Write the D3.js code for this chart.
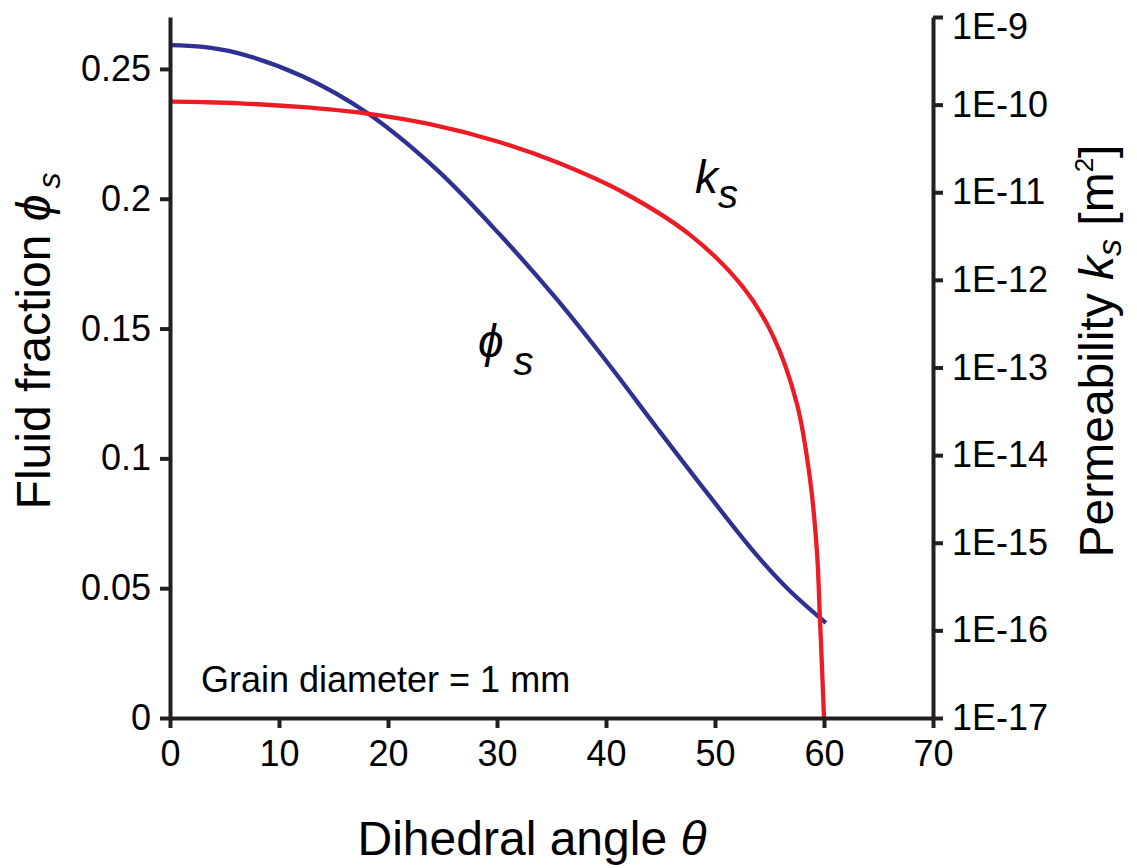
<!DOCTYPE html>
<html>
<head>
<meta charset="utf-8">
<script src="https://cdn.jsdelivr.net/npm/d3@7"></script>
<style>
    body { margin: 0; background: #fff; }
    svg { display: block; font-family: "Liberation Sans", Arial, sans-serif; }
</style>
</head>
<body>
<div id="chart"></div>
<script>
// fluid fraction phi_s vs dihedral angle (left axis)
const phiTheta  = [0, 3.03, 6.15, 12.2, 18.07, 24.5, 30.28, 35.5, 40.09, 44.68, 49.27, 53.85, 56.88, 60.18];
const phiValues = [0.2592, 0.2585, 0.2562, 0.2471, 0.2331, 0.2111, 0.1861, 0.1612, 0.1371, 0.1117, 0.0867, 0.0626, 0.0489, 0.0366];

// permeability k_s [m^2] vs dihedral angle (right axis, log)
const kTheta  = [0, 3.03, 6.42, 11.93, 18.07, 23.85, 30.28, 35.5, 41.56, 47.71, 52.48, 55.32, 57.52, 58.72, 59.36, 59.63, 59.82, 60];
const kValues = [1.08e-10, 1.066e-10, 1.035e-10, 9.4e-11, 7.9e-11, 5.98e-11, 3.72e-11, 2.2e-11, 1.0e-11, 3.26e-12,
                 8.55e-13, 2.3e-13, 3.84e-14, 5.3e-15, 7.66e-16, 1.32e-16, 3.73e-17, 1e-17];

const xTicks = [0, 10, 20, 30, 40, 50, 60, 70];
const phiTicks = [0, 0.05, 0.1, 0.15, 0.2, 0.25];
const phiTickLabels = ["0", "0.05", "0.1", "0.15", "0.2", "0.25"];
const kTicks = [1e-17, 1e-16, 1e-15, 1e-14, 1e-13, 1e-12, 1e-11, 1e-10, 1e-9];
const kTickLabels = ["1E-17", "1E-16", "1E-15", "1E-14", "1E-13", "1E-12", "1E-11", "1E-10", "1E-9"];

const width = 1137, height = 868;
const plotLeft = 170, plotRight = 933, plotTop = 17, plotBottom = 718;
const axisColor = "#231f20";

const svg = d3.select("#chart").append("svg")
    .attr("width", width)
    .attr("height", height);

const x = d3.scaleLinear().domain([0, 70]).range([plotLeft, plotRight]);
const yPhi = d3.scaleLinear().domain([0, 0.27]).range([plotBottom, plotTop]);
const yK = d3.scaleLog().domain([1e-17, 1e-9]).range([plotBottom, plotTop]);

// curves
const phiData = phiTheta.map((t, i) => ({t: t, v: phiValues[i]}));
const kData = kTheta.map((t, i) => ({t: t, v: kValues[i]}));

svg.append("path")
    .datum(phiData)
    .attr("fill", "none")
    .attr("stroke", "#2e3192")
    .attr("stroke-width", 4.3)
    .attr("d", d3.line().x(d => x(d.t)).y(d => yPhi(d.v)).curve(d3.curveCatmullRom.alpha(0.5)));

svg.append("path")
    .datum(kData)
    .attr("fill", "none")
    .attr("stroke", "#ed1c24")
    .attr("stroke-width", 4.3)
    .attr("d", d3.line().x(d => x(d.t)).y(d => yK(d.v)).curve(d3.curveCatmullRom.alpha(0.5)));

// axes
const tickFont = 36;

const xAxis = svg.append("g")
    .attr("transform", `translate(0,${plotBottom})`)
    .call(d3.axisBottom(x).tickValues(xTicks).tickSize(10).tickSizeOuter(0).tickPadding(12));

const leftAxis = svg.append("g")
    .attr("transform", `translate(${plotLeft},0)`)
    .call(d3.axisLeft(yPhi).tickValues(phiTicks).tickSize(10).tickSizeOuter(0).tickPadding(9)
        .tickFormat((d, i) => phiTickLabels[i]));

const rightAxis = svg.append("g")
    .attr("transform", `translate(${plotRight},0)`)
    .call(d3.axisRight(yK).tickValues(kTicks).tickSize(10).tickSizeOuter(0).tickPadding(9)
        .tickFormat((d, i) => kTickLabels[i]));

[xAxis, leftAxis, rightAxis].forEach(g => {
    g.select(".domain").attr("stroke", axisColor).attr("stroke-width", 4);
    g.selectAll(".tick line").attr("stroke", axisColor).attr("stroke-width", 4);
    g.selectAll(".tick text")
        .attr("fill", "#000")
        .style("font-size", tickFont + "px")
        .style("font-family", "'Liberation Sans', Arial, sans-serif");
});
// top label of the log axis sits a bit lower in the original
rightAxis.selectAll(".tick text").filter(d => d === 1e-9).attr("dy", "0.6em");

// axis titles
svg.append("text")
    .attr("x", 532).attr("y", 855)
    .attr("text-anchor", "middle")
    .style("font-size", "48px")
    .html('Dihedral angle <tspan font-style="italic">θ</tspan>');

svg.append("text")
    .attr("transform", "translate(50,341) rotate(-90)")
    .attr("text-anchor", "middle")
    .style("font-size", "48px")
    .html('Fluid fraction <tspan font-style="italic">ϕ</tspan><tspan font-style="italic" font-size="32px" dx="6" dy="10">s</tspan>');

svg.append("text")
    .attr("transform", "translate(1113,351) rotate(-90)")
    .attr("text-anchor", "middle")
    .style("font-size", "48px")
    .html('Permeability <tspan font-style="italic">k</tspan><tspan font-style="italic" font-size="34px" dy="8">s</tspan><tspan dy="-8"> [m</tspan><tspan font-size="26px" dy="-20">2</tspan><tspan dy="20">]</tspan>');

// curve labels
svg.append("text")
    .attr("x", 695).attr("y", 193)
    .style("font-size", "46px")
    .style("font-style", "italic")
    .html('k<tspan font-size="40px" dy="15">s</tspan>');

svg.append("text")
    .attr("x", 478).attr("y", 357)
    .style("font-size", "46px")
    .style("font-style", "italic")
    .html('ϕ<tspan font-size="40px" dx="10" dy="18">s</tspan>');

// annotation
svg.append("text")
    .attr("x", 201).attr("y", 692)
    .style("font-size", "36px")
    .text("Grain diameter = 1 mm");
</script>
</body>
</html>
